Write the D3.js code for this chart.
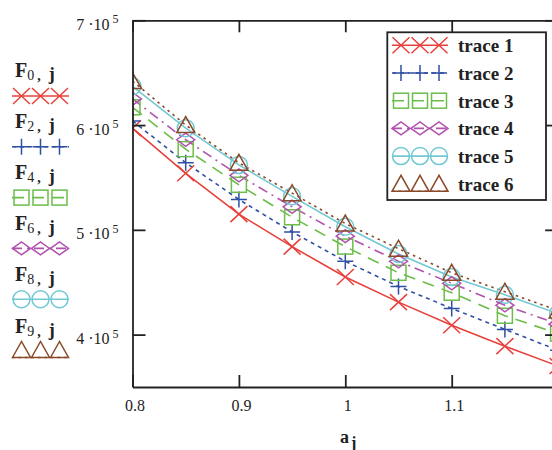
<!DOCTYPE html>
<html>
<head>
<meta charset="utf-8">
<script src="https://cdn.jsdelivr.net/npm/d3@7"></script>
<style>
  html, body { margin: 0; padding: 0; background: #fff; overflow: hidden; }
  svg { display: block; }
  text { font-family: "Liberation Serif", "Times New Roman", serif; fill: #222; }
</style>
</head>
<body>
<svg id="chart" width="552" height="450"></svg>
<script>
// ---- data ----
const aj = [0.8, 0.85, 0.9, 0.95, 1.0, 1.05, 1.1, 1.15, 1.2];
const trace1 = [5.97e5, 5.54e5, 5.15e5, 4.84e5, 4.55e5, 4.31e5, 4.09e5, 3.89e5, 3.70e5];
const trace2 = [6.04e5, 5.64e5, 5.29e5, 4.98e5, 4.70e5, 4.46e5, 4.25e5, 4.05e5, 3.85e5];
const trace3 = [6.17e5, 5.77e5, 5.43e5, 5.12e5, 4.84e5, 4.59e5, 4.40e5, 4.18e5, 4.01e5];
const trace4 = [6.25e5, 5.86e5, 5.52e5, 5.22e5, 4.94e5, 4.70e5, 4.49e5, 4.28e5, 4.10e5];
const trace5 = [6.37e5, 5.97e5, 5.62e5, 5.32e5, 5.03e5, 4.77e5, 4.55e5, 4.38e5, 4.20e5];
const trace6 = [6.42e5, 6.00e5, 5.64e5, 5.35e5, 5.06e5, 4.82e5, 4.59e5, 4.41e5, 4.23e5];

const traceNames = ["trace 1", "trace 2", "trace 3", "trace 4", "trace 5", "trace 6"];
const seriesSubscripts = ["0", "2", "4", "6", "8", "9"];

const xTicks = [0.8, 0.9, 1.0, 1.1];
const xTickLabels = ["0.8", "0.9", "1", "1.1"];
const yTicks = [4e5, 5e5, 6e5, 7e5];
const yTickMantissas = ["4", "5", "6", "7"];
const yTickExponent = "5";

// ---- styles ----
const seriesValues = [trace1, trace2, trace3, trace4, trace5, trace6];
const colors = ["#e8403b", "#2f4fa2", "#6cbd4a", "#b052ae", "#72c9d3", "#8a4a2a"];
const dashes = [null, "4,4", "12,8", "10,5,2,5", null, "2.5,4"];
const shapes = ["x", "plus", "square", "diamond", "circle", "triangle"];

const svg = d3.select("#chart");

const x = d3.scaleLinear().domain([0.8, 1.2]).range([132.5, 558.1]);
const y = d3.scaleLinear().domain([3.5e5, 7e5]).range([387, 20.3]);

const plotLeft = x.range()[0], plotRight = x.range()[1];
const plotTop = y.range()[1], plotBottom = y.range()[0];

svg.append("defs").append("clipPath").attr("id", "plotClip")
  .append("rect")
  .attr("x", plotLeft).attr("y", plotTop)
  .attr("width", plotRight - plotLeft).attr("height", plotBottom - plotTop);

// marker drawing
function marker(g, shape, cx, cy, color) {
  const s = g.append("g").attr("transform", `translate(${cx},${cy})`)
    .attr("fill", "none").attr("stroke", color).attr("stroke-width", 1.5);
  switch (shape) {
    case "x":
      s.append("path").attr("d", "M-8.5,-8L8.5,8M-8.5,8L8.5,-8");
      break;
    case "plus":
      s.append("path").attr("d", "M-8,0L8,0M0,-8L0,8");
      break;
    case "square":
      s.append("rect").attr("x", -7.5).attr("y", -7.5).attr("width", 15).attr("height", 15);
      break;
    case "diamond":
      s.append("path").attr("d", "M-9,0L0,-6.5L9,0L0,6.5Z");
      break;
    case "circle":
      s.append("circle").attr("r", 8.5);
      break;
    case "triangle":
      s.append("path").attr("d", "M-9,7.5L0,-8.5L9,7.5Z");
      break;
  }
}

// ---- data lines and markers ----
const plot = svg.append("g").attr("clip-path", "url(#plotClip)");
const line = d3.line().x(d => x(d[0])).y(d => y(d[1]));

seriesValues.forEach((vals, i) => {
  const pts = aj.map((a, k) => [a, vals[k]]);
  plot.append("path")
    .attr("d", line(pts))
    .attr("fill", "none")
    .attr("stroke", colors[i])
    .attr("stroke-width", 1.6)
    .attr("stroke-dasharray", dashes[i]);
});
seriesValues.forEach((vals, i) => {
  aj.forEach((a, k) => marker(plot, shapes[i], x(a), y(vals[k]), colors[i]));
});

// ---- axes / frame ----
const frameColor = "#222";
function styleAxis(g) {
  g.selectAll(".domain").attr("stroke", frameColor).attr("stroke-width", 1.8);
  g.selectAll(".tick line").attr("stroke", frameColor).attr("stroke-width", 1.8);
}

// bottom axis with labels
svg.append("g")
  .attr("transform", `translate(0,${plotBottom})`)
  .call(d3.axisBottom(x).tickValues(xTicks).tickSize(-12).tickSizeOuter(0)
    .tickPadding(13).tickFormat((d, i) => xTickLabels[i]))
  .call(styleAxis)
  .call(g => g.selectAll(".tick text")
    .attr("dx", 2).attr("font-size", 16)
    .attr("font-family", "Liberation Serif, Times New Roman, serif").attr("fill", "#222"));

// top axis
svg.append("g")
  .attr("transform", `translate(0,${plotTop})`)
  .call(d3.axisTop(x).tickValues(xTicks).tickSize(-12).tickSizeOuter(0).tickFormat(""))
  .call(styleAxis);

// left axis with scientific labels (mantissa ·10 with superscript exponent)
svg.append("g")
  .attr("transform", `translate(${plotLeft},0)`)
  .call(d3.axisLeft(y).tickValues(yTicks).tickSize(-13).tickSizeOuter(0).tickFormat(""))
  .call(styleAxis)
  .call(g => g.selectAll(".tick").each(function (d, i) {
    const t = d3.select(this);
    t.select("text").remove();
    const lab = t.append("text")
      .attr("x", -14).attr("y", 9)
      .attr("text-anchor", "end")
      .attr("font-size", 16)
      .attr("font-family", "Liberation Serif, Times New Roman, serif")
      .attr("fill", "#222");
    lab.append("tspan").text(yTickMantissas[i] + " \u00B710");
    lab.append("tspan").attr("font-size", 12).attr("dx", 3).attr("dy", -6.5).text(yTickExponent);
  }));

// right axis (its line sits just past the visible edge)
svg.append("g")
  .attr("transform", `translate(${plotRight},0)`)
  .call(d3.axisRight(y).tickValues(yTicks).tickSize(-13).tickSizeOuter(0).tickFormat(""))
  .call(styleAxis);

// x axis title a_j
const xTitle = svg.append("text")
  .attr("x", 340).attr("y", 443)
  .attr("font-weight", "bold");
xTitle.append("tspan").attr("font-size", 18).text("a");
xTitle.append("tspan").attr("font-size", 16).attr("dx", 2).attr("dy", 5).text("j");

// ---- legend with sample rows (left column) ----
const leftLegend = svg.append("g");
seriesValues.forEach((_, i) => {
  const base = 77 + i * 51.1;
  const my = 96 + i * 50.8;
  const lab = leftLegend.append("text").attr("x", 15).attr("y", base);
  lab.append("tspan").attr("font-weight", "bold").attr("font-size", 20).text("F");
  lab.append("tspan").attr("font-size", 14).attr("dy", 3).text(seriesSubscripts[i]);
  lab.append("tspan").attr("font-weight", "bold").attr("font-size", 14).attr("dx", 3).text(",");
  lab.append("tspan").attr("font-weight", "bold").attr("font-size", 18).attr("dx", 8).text("j");

  const ly = shapes[i] === "triangle" ? my + 7.5 : my;
  leftLegend.append("line")
    .attr("x1", 12).attr("x2", 69).attr("y1", ly).attr("y2", ly)
    .attr("stroke", colors[i]).attr("stroke-width", 1.6)
    .attr("stroke-dasharray", dashes[i]);
  [21.5, 40.5, 59.5].forEach(cx => marker(leftLegend, shapes[i], cx, my, colors[i]));
});

// ---- legend box (top right) ----
const legend = svg.append("g");
legend.append("rect")
  .attr("x", 387.3).attr("y", 32.3).attr("width", 158.7).attr("height", 167.7)
  .attr("fill", "#fff").attr("stroke", frameColor).attr("stroke-width", 1.8);
traceNames.forEach((name, i) => {
  const cy = 45.3 + i * 27.7;
  const ly = shapes[i] === "triangle" ? cy + 7.5 : cy;
  legend.append("line")
    .attr("x1", 392).attr("x2", 448).attr("y1", ly).attr("y2", ly)
    .attr("stroke", colors[i]).attr("stroke-width", 1.6)
    .attr("stroke-dasharray", dashes[i]);
  [401, 420, 439].forEach(cx => marker(legend, shapes[i], cx, cy, colors[i]));
  legend.append("text")
    .attr("x", 458).attr("y", cy + 7)
    .attr("font-size", 19).attr("font-weight", "bold")
    .text(name);
});
</script>
</body>
</html>
